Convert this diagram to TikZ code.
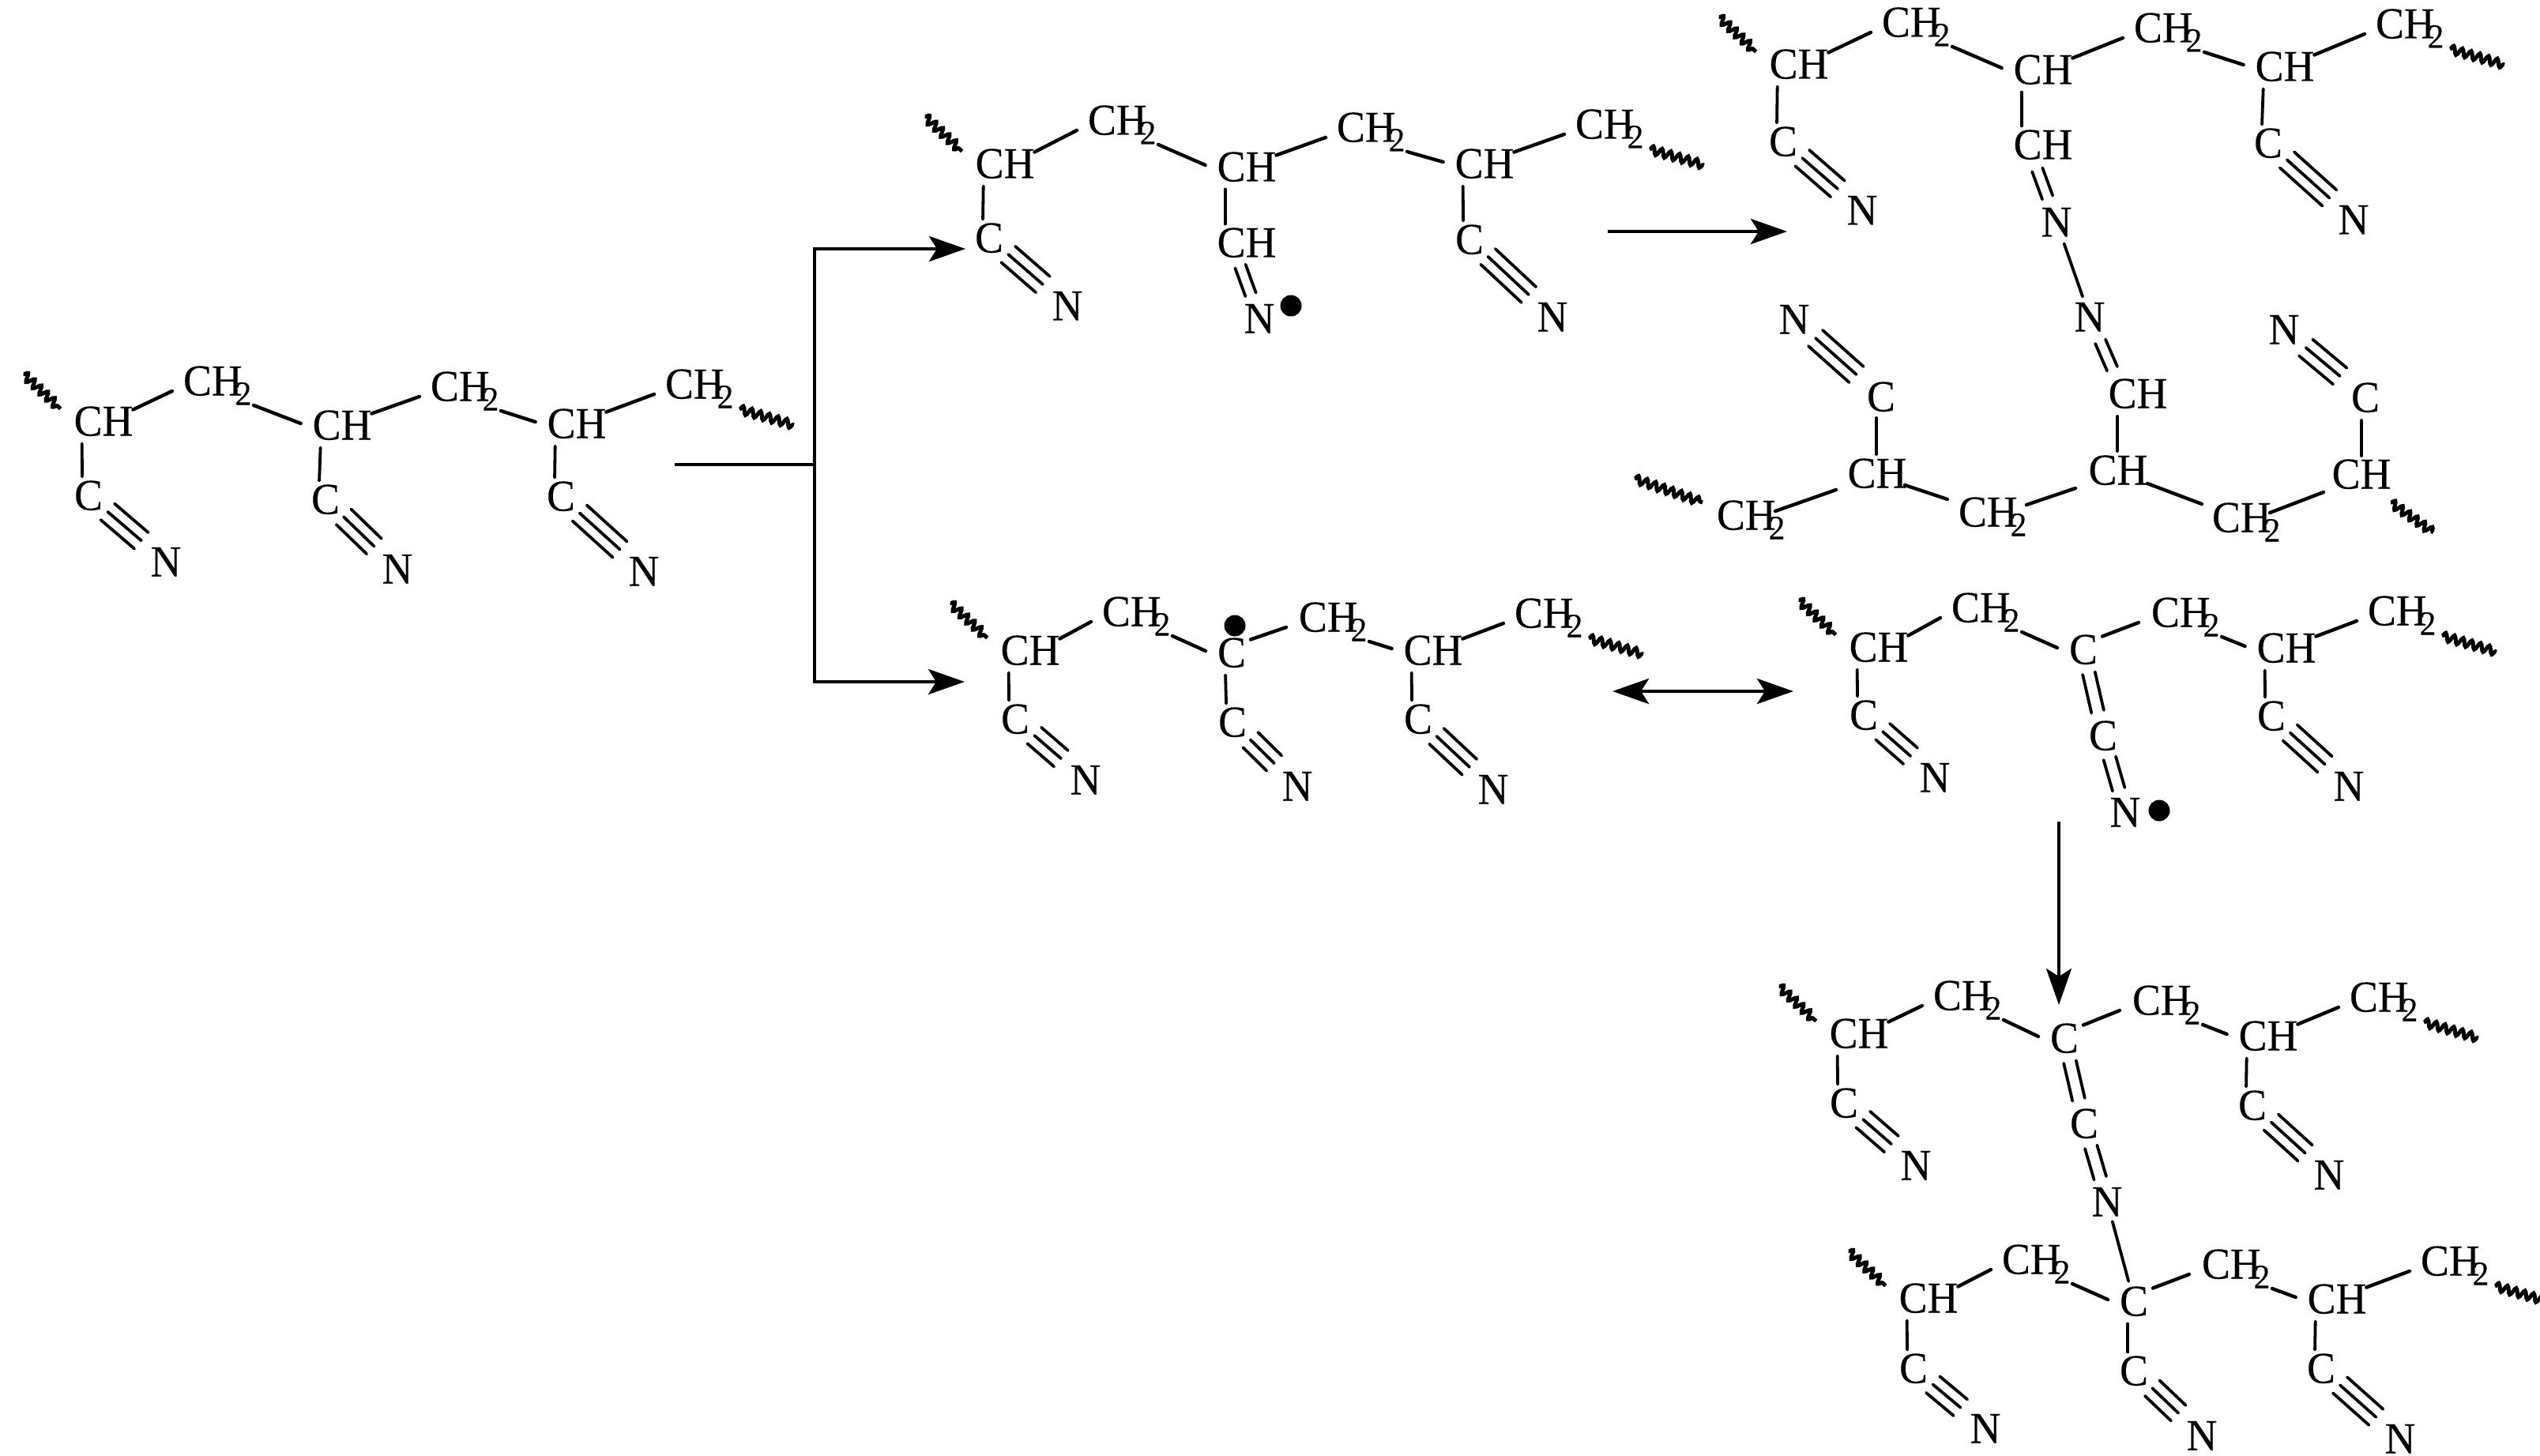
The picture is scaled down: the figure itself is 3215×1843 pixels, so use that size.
\documentclass[tikz,border=0pt]{standalone}
\usepackage{fontspec}
\setmainfont[FakeStretch=0.96,FakeBold=0.25]{Liberation Serif}
\usetikzlibrary{calc,arrows.meta,decorations.pathmorphing}
\newcommand{\twosub}{\kern-9pt\raisebox{-12pt}{\fontsize{43}{43}\selectfont 2}}
\tikzset{
  atom/.style={inner sep=0pt,outer sep=0pt,text height=37pt,text depth=0pt,font=\fontsize{56}{56}\selectfont},
  bond/.style={line width=4.4pt,line cap=round},
  vbond/.style={line width=3.8pt,line cap=round},
  multi/.style={line width=3.8pt,line cap=round},
  wave/.style={line width=5pt,decorate,decoration={snake,amplitude=5pt,segment length=11.5pt}},
  rx/.style={line width=4.8pt},
  rxa/.style={rx,-{Stealth[length=46pt,width=32pt,inset=10pt]}},
  rxb/.style={rx,{Stealth[length=46pt,width=32pt,inset=10pt]}-{Stealth[length=46pt,width=32pt,inset=10pt]}},
  radical/.style={circle,fill=black,inner sep=0pt,minimum size=27pt}
}
% atoms
\newcommand{\atCH}[3]{\node[atom] (#1) at (#2,#3) {CH};}
\newcommand{\atCt}[3]{\node[atom,anchor=west] (#1) at (#2,#3) {CH\twosub};}
\newcommand{\atC}[3]{\node[atom] (#1) at (#2,#3) {C};}
\newcommand{\atN}[3]{\node[atom] (#1) at (#2,#3) {N};}
% bonds
\newcommand{\bUp}[2]{\draw[bond] ([shift={(0,4)}]#1.north east) -- ([shift={(-14,13)}]#2.west);}
\newcommand{\bUpC}[2]{\draw[bond] ([shift={(6,2)}]#1.north east) -- ([shift={(-16,13)}]#2.west);}
\newcommand{\bDn}[2]{\draw[bond] ([shift={(89,31)}]#1.west) -- ([shift={(-15,-2)}]#2.west);}
\newcommand{\bVert}[2]{\draw[vbond] ([shift={(10,10)}]#1.south west) -- ([shift={(10,-5)}]#2.north west);}
\newcommand{\wL}[1]{\coordinate (wa) at ([shift={(-17,3)}]#1.north west);\coordinate (wb) at ([shift={(-64,-41)}]#1.north west);\draw[wave] (wb) -- (wa);}
\newcommand{\wR}[1]{\coordinate (wa) at ([shift={(94,32)}]#1.west);\coordinate (wb) at ([shift={(163,52)}]#1.west);\draw[wave] (wa) -- (wb);}
\newcommand{\tbond}[4]{%
  \coordinate (ts) at ($(#1.center)!#3pt!(#2.center)$);
  \coordinate (te) at ($(#2.center)!#4pt!(#1.center)$);
  \draw[multi] (ts) -- (te);
  \draw[multi] ($(ts)!13.5pt!90:(te)$) -- ($(te)!13.5pt!-90:(ts)$);
  \draw[multi] ($(ts)!13.5pt!-90:(te)$) -- ($(te)!13.5pt!90:(ts)$);}
\newcommand{\dbond}[5]{%
  \coordinate (ts) at ($(#1)!#3pt!(#2)$);
  \coordinate (te) at ($(#2)!#4pt!(#1)$);
  \draw[multi] ($(ts)!#5pt!90:(te)$) -- ($(te)!#5pt!-90:(ts)$);
  \draw[multi] ($(ts)!#5pt!-90:(te)$) -- ($(te)!#5pt!90:(ts)$);}
% CH--C#N unit
\newcommand{\unit}[7]{\atCH{#1h}{#2}{#3}\atC{#1c}{#4}{#5}\atN{#1n}{#6}{#7}\bVert{#1h}{#1c}\tbond{#1c}{#1n}{32}{41}}
\begin{document}
\begin{tikzpicture}[x=1pt,y=-1pt]
\useasboundingbox (0,0) rectangle (3215,1843);
\fill[white] (0,0) rectangle (3215,1843);

% chain A
\unit{Aa}{131}{533}{112}{627}{210}{711}
\unit{Ab}{433}{538}{412}{632}{503}{720}
\unit{Ac}{730}{536}{710}{628}{815}{723}
\atCt{Ap}{232}{482}\atCt{Aq}{545}{489}\atCt{Ar}{842}{486}
\wL{Aah}\bUp{Aah}{Ap}\bDn{Ap}{Abh}\bUp{Abh}{Aq}\bDn{Aq}{Ach}\bUp{Ach}{Ar}\wR{Ar}

% chain B
\unit{Ba}{1272}{207}{1252}{301}{1351}{387}
\unit{Bc}{1879}{207}{1860}{303}{1965}{401}
\atCH{Bbh}{1578}{211}\atCH{Bbl}{1578}{307}\atN{Bbn}{1594}{403}
\atCt{Bp}{1377}{152}\atCt{Bq}{1692}{161}\atCt{Br}{1994}{157}
\wL{Bah}\bUp{Bah}{Bp}\bDn{Bp}{Bbh}\bUp{Bbh}{Bq}\bDn{Bq}{Bch}\bUp{Bch}{Br}\wR{Br}
\bVert{Bbh}{Bbl}
\coordinate (k) at ([shift={(-19,0)}]Bbl.center);
\dbond{k}{Bbn.center}{32}{32}{7}
\node[radical] (Bdot) at (1634,387) {};

% chain C upper
\unit{Ca}{2277}{81}{2257}{179}{2357}{266}
\unit{Cc}{2892}{84}{2871}{181}{2979}{278}
\atCH{Cbh}{2586}{88}\atCH{Cbl}{2586}{183}\atN{Cbn}{2603}{281}
\atCt{Cp}{2382}{28}\atCt{Cq}{2701}{35}\atCt{Cr}{3007}{30}
\wL{Cah}\bUp{Cah}{Cp}\bDn{Cp}{Cbh}\bUp{Cbh}{Cq}\bDn{Cq}{Cch}\bUp{Cch}{Cr}\wR{Cr}
\bVert{Cbh}{Cbl}
\coordinate (k) at ([shift={(-19,0)}]Cbl.center);
\dbond{k}{Cbn.center}{34}{33}{7}

% chain C lower
\atN{Lbn}{2645}{401}\atCH{Lbl}{2706}{498}\atCH{Lbh}{2681}{595}
\atN{Lan}{2271}{404}\atC{Lac}{2381}{502}\atCH{Lah}{2376}{599}
\atN{Lcn}{2891}{417}\atC{Lcc}{2994}{503}\atCH{Lch}{2989}{600}
\atCt{Lp}{2173}{652}\atCt{Lq}{2479}{648}\atCt{Lr}{2800}{655}
\coordinate (na) at ($(Cbn.center)!29pt!(Lbn.center)$);
\coordinate (nb) at ($(Lbn.center)!27pt!(Cbn.center)$);
\draw[vbond] (na) -- (nb);
\coordinate (k) at ([shift={(-19,0)}]Lbl.center);
\dbond{Lbn.center}{k}{34}{34}{7}
\draw[vbond] ([shift={(-26,29)}]Lbl.center) -- ([shift={(-1,-24)}]Lbh.center);
\draw[vbond] ([shift={(-6,27)}]Lac.center) -- ([shift={(-1,-24)}]Lah.center);
\draw[vbond] ([shift={(-5,29)}]Lcc.center) -- ([shift={(0,-23)}]Lch.center);
\tbond{Lac}{Lan}{42}{36}
\tbond{Lcc}{Lcn}{42}{36}
\draw[bond] ([shift={(74,-5)}]Lp.west) -- ([shift={(-52,21)}]Lah.center);
\draw[bond] ([shift={(35,15)}]Lah.center) -- ([shift={(-14,-16)}]Lq.west);
\draw[bond] ([shift={(86,-9)}]Lq.west) -- ([shift={(-54,23)}]Lbh.center);
\draw[bond] ([shift={(37,17)}]Lbh.center) -- ([shift={(-13,-17)}]Lr.west);
\draw[bond] ([shift={(73,-6)}]Lr.west) -- ([shift={(-48,23)}]Lch.center);
\draw[wave] ([shift={(-104,-46)}]Lp.west) -- ([shift={(-18,-16)}]Lp.west);
\draw[wave] ([shift={(37,36)}]Lch.center) -- ([shift={(91,74)}]Lch.center);

% chain D
\unit{Da}{1304}{823}{1285}{910}{1374}{987}
\unit{Dc}{1814}{823}{1795}{910}{1890}{999}
\atC{Dbh}{1559}{826}\atC{Dbc}{1560}{914}\atN{Dbn}{1642}{995}
\atCt{Dp}{1395}{774}\atCt{Dq}{1644}{781}\atCt{Dr}{1917}{776}
\wL{Dah}\bUp{Dah}{Dp}\bDn{Dp}{Dbh}\bUpC{Dbh}{Dq}\bDn{Dq}{Dch}\bUp{Dch}{Dr}\wR{Dr}
\bVert{Dbh}{Dbc}
\tbond{Dbc}{Dbn}{32}{41}
\node[radical] (Ddot) at (1563,792) {};

% chain E
\unit{Ea}{2378}{819}{2359}{905}{2449}{984}
\unit{Ec}{2894}{820}{2875}{906}{2973}{995}
\atC{Ebh}{2637}{822}\atC{Ebc}{2662}{931}\atN{Ebn}{2690}{1028}
\atCt{Ep}{2470}{769}\atCt{Eq}{2723}{775}\atCt{Er}{2997}{773}
\wL{Eah}\bUp{Eah}{Ep}\bDn{Ep}{Ebh}\bUpC{Ebh}{Eq}\bDn{Eq}{Ech}\bUp{Ech}{Er}\wR{Er}
\dbond{Ebh.center}{Ebc.center}{31}{31}{8}
\dbond{Ebc.center}{Ebn.center}{30}{30}{8}
\node[radical] (Edot) at (2733,1026) {};

% chain F
\unit{Fa}{2353}{1308}{2334}{1396}{2425}{1475}
\unit{Fc}{2871}{1311}{2851}{1399}{2948}{1487}
\atC{Fbh}{2613}{1314}\atC{Fbc}{2638}{1422}\atN{Fbn}{2667}{1521}
\atCt{Fp}{2447}{1260}\atCt{Fq}{2699}{1266}\atCt{Fr}{2974}{1262}
\wL{Fah}\bUp{Fah}{Fp}\bDn{Fp}{Fbh}\bUpC{Fbh}{Fq}\bDn{Fq}{Fch}\bUp{Fch}{Fr}\wR{Fr}
\dbond{Fbh.center}{Fbc.center}{31}{31}{8}
\dbond{Fbc.center}{Fbn.center}{31}{31}{8}

% chain G
\unit{Ga}{2441}{1643}{2422}{1732}{2513}{1808}
\unit{Gc}{2958}{1644}{2938}{1732}{3038}{1821}
\atC{Gbh}{2701}{1647}\atC{Gbc}{2701}{1735}\atN{Gbn}{2787}{1817}
\atCt{Gp}{2534}{1594}\atCt{Gq}{2787}{1600}\atCt{Gr}{3064}{1596}
\wL{Gah}\bUp{Gah}{Gp}\bDn{Gp}{Gbh}\bUpC{Gbh}{Gq}\bDn{Gq}{Gch}\bUp{Gch}{Gr}\wR{Gr}
\bVert{Gbh}{Gbc}
\tbond{Gbc}{Gbn}{32}{41}
\coordinate (na) at ($(Fbn.center)!26pt!(Gbh.center)$);
\coordinate (nb) at ($(Gbh.center)!26pt!(Fbn.center)$);
\draw[vbond] (na) -- (nb);

% reaction arrows
\coordinate (m0) at (854,588);
\coordinate (mj) at (1031,588);
\coordinate (mt) at (1031,315);
\coordinate (mb) at (1031,863);
\coordinate (mta) at (1222,315);
\coordinate (mba) at (1221,863);
\draw[rx] (m0) -- (mj);
\draw[rx,line cap=rect] (mt) -- (mb);
\draw[rxa] (mt) -- (mta);
\draw[rxa] (mb) -- (mba);
\coordinate (r0) at (2035,293);\coordinate (r1) at (2262,293);
\draw[rxa] (r0) -- (r1);
\coordinate (e0) at (2041,875);\coordinate (e1) at (2270,875);
\draw[rxb] (e0) -- (e1);
\coordinate (v0) at (2606,1040);\coordinate (v1) at (2606,1272);
\draw[rxa] (v0) -- (v1);
\end{tikzpicture}
\end{document}
